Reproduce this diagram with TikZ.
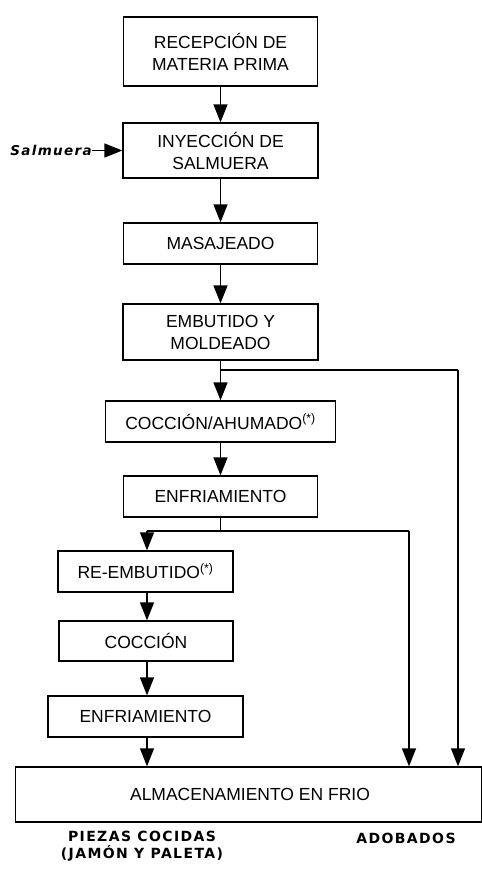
\documentclass[tikz,border=0pt]{standalone}
\usepackage{fontspec}
\setmainfont{Liberation Sans}
\newfontfamily\lblfont[LetterSpace=10]{DejaVu Sans}
\usetikzlibrary{arrows.meta}
\tikzset{
  box/.style={draw, line width=1.3pt, inner sep=0pt, align=center,
    font=\fontsize{17.5}{22}\selectfont},
  conn/.style={line width=1.3pt},
  arr/.style={conn, -{Triangle[width=14pt,length=18pt]}},
  lbl/.style={font=\lblfont\bfseries\fontsize{14}{17}\selectfont, align=center, inner sep=0pt}
}
\begin{document}
\begin{tikzpicture}[x=1pt,y=-1pt]
\useasboundingbox (0,0) rectangle (482,873);
\node[box, minimum width=194pt, minimum height=69pt] (b1) at (220.5,51.5) {RECEPCIÓN DE\\MATERIA PRIMA};
\node[box, minimum width=195pt, minimum height=55pt] (b2) at (220.5,150.5) {INYECCIÓN DE\\SALMUERA};
\node[box, minimum width=194pt, minimum height=41pt] (b3) at (220.5,243.5) {MASAJEADO};
\node[box, minimum width=195pt, minimum height=56pt] (b4) at (220.5,332) {EMBUTIDO Y\\MOLDEADO};
\node[box, minimum width=230pt, minimum height=41pt] (b5) at (220.5,421.5) {COCCIÓN/AHUMADO\textsuperscript{(*)}};
\node[box, minimum width=194pt, minimum height=41pt] (b6) at (220.5,496.5) {ENFRIAMIENTO};
\node[box, minimum width=175pt, minimum height=41pt] (b7) at (145.5,571.5) {RE-EMBUTIDO\textsuperscript{(*)}};
\node[box, minimum width=174pt, minimum height=40pt] (b8) at (146,641) {COCCIÓN};
\node[box, minimum width=195pt, minimum height=41pt] (b9) at (145.5,716.5) {ENFRIAMIENTO};
\node[box, minimum width=466pt, minimum height=55pt] (b10) at (248.5,794.5) {\hspace*{3pt}ALMACENAMIENTO EN FRIO};
\node[lbl, font=\lblfont\bfseries\itshape\fontsize{13.5}{17}\selectfont, anchor=east] (salm) at (92,150.5) {Salmuera};
\node[lbl] (piezas) at (142,846.5) {PIEZAS COCIDAS\\(JAMÓN Y PALETA)};
\node[lbl] (adob) at (406,838) {ADOBADOS};
\coordinate (j1) at (220.5,370);
\coordinate (r1) at (458,370);
\coordinate (j2) at (220.5,531);
\coordinate (l2) at (147,531);
\coordinate (r2) at (409,531);
\draw[arr] (b1.south) -- (b2.north);
\draw[arr] (salm.east) -- (b2.west);
\draw[arr] (b2.south) -- (b3.north);
\draw[arr] (b3.south) -- (b4.north);
\draw[arr] (b4.south) -- (b5.north);
\draw[conn] (j1) -- (r1);
\draw[arr] (r1) -- (r1 |- b10.north);
\draw[arr] (b5.south) -- (b6.north);
\draw[conn] (b6.south) -- (j2);
\draw[conn] (l2) -- (r2);
\draw[arr] (l2) -- (l2 |- b7.north);
\draw[arr] (r2) -- (r2 |- b10.north);
\draw[arr] (b7.south -| l2) -- (l2 |- b8.north);
\draw[arr] (b8.south -| l2) -- (l2 |- b9.north);
\draw[arr] (b9.south -| l2) -- (l2 |- b10.north);
\end{tikzpicture}
\end{document}
